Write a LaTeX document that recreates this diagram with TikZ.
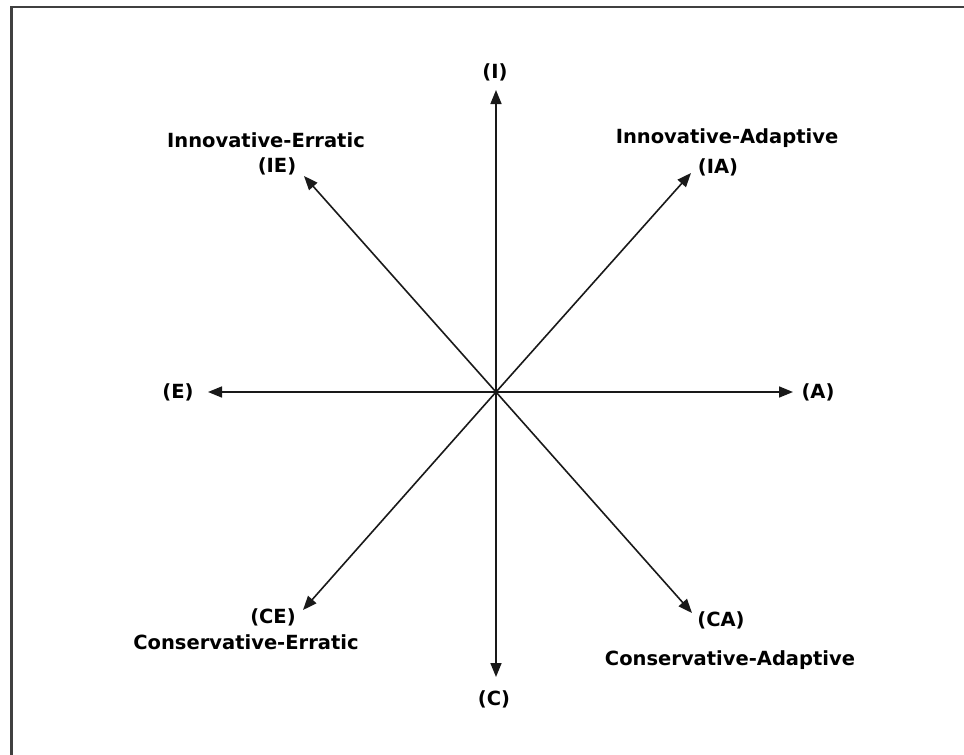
\documentclass[tikz,border=0pt]{standalone}
\usepackage{fontspec}
\setmainfont{DejaVu Sans}
\usetikzlibrary{arrows.meta}
\begin{document}
\begin{tikzpicture}[x=1pt,y=-1pt,
  axis/.style={line width=1.6pt, draw=black!90, -{Triangle[length=14pt,width=11pt]}},
  lbl/.style={inner sep=0pt, font=\fontsize{19.5}{23}\selectfont\bfseries, text=black},
  frameline/.style={line width=2.5pt, draw=black!75}]
\useasboundingbox (0,0) rectangle (964,755);
\draw[frameline] (11.5,755) -- (11.5,7) -- (964,7);
\coordinate (O) at (496,392);
\coordinate (tI) at (496,90);
\coordinate (tC) at (496,677);
\coordinate (tE) at (208,392);
\coordinate (tA) at (793,392);
\coordinate (tIE) at (304,176);
\coordinate (tIA) at (691,173);
\coordinate (tCE) at (303,610);
\coordinate (tCA) at (692,613);
\foreach \t in {tI,tC,tE,tA,tIE,tIA,tCE,tCA} \draw[axis] (O) -- (\t);
\node[lbl] (lI) at (495,72) {(I)};
\node[lbl] (lC) at (494,699) {(C)};
\node[lbl] (lE) at (178,392) {(E)};
\node[lbl] (lA) at (818,392) {(A)};
\node[lbl] (nIE) at (266,140) {Innovative-Erratic};
\node[lbl] (lIE) at (277,166) {(IE)};
\node[lbl] (nIA) at (727,138) {Innovative-Adaptive};
\node[lbl] (lIA) at (718,167) {(IA)};
\node[lbl] (lCE) at (273,617) {(CE)};
\node[lbl] (nCE) at (246,642) {Conservative-Erratic};
\node[lbl] (lCA) at (721,620) {(CA)};
\node[lbl] (nCA) at (730,660) {Conservative-Adaptive};
\end{tikzpicture}
\end{document}
